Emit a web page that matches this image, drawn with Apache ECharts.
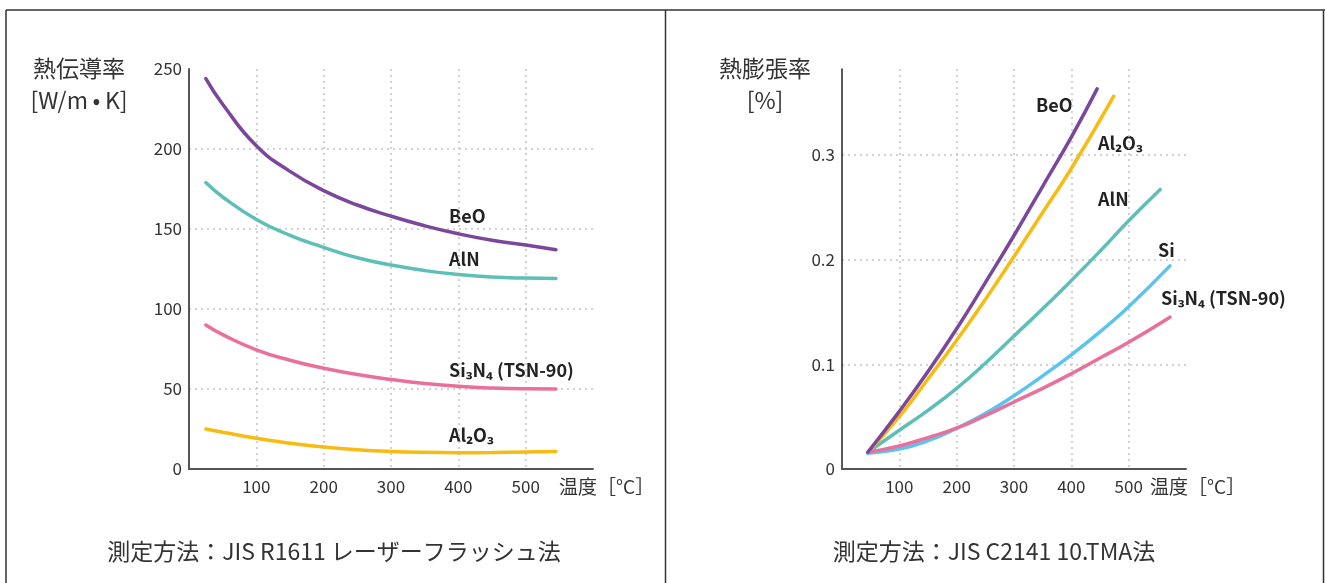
<!DOCTYPE html>
<html>
<head>
<meta charset="utf-8">
<script src="https://cdn.jsdelivr.net/npm/echarts@6/dist/echarts.min.js"></script>
<style>
  html, body { margin: 0; padding: 0; background: #fff; }
  #chart { width: 1325px; height: 583px; }
</style>
</head>
<body>
<div id="chart"></div>
<script>
// Thermal conductivity [W/m·K] vs temperature [°C]
const condTemps   = [25, 50, 100, 150, 200, 250, 300, 350, 400, 450, 500, 545];
const condBeO     = [244, 228, 202, 186, 174, 165, 158, 152, 147, 143, 140, 137];
const condAlN     = [179, 170, 156, 146, 138.5, 132, 127.5, 124, 121.5, 120, 119.3, 119];
const condSi3N4   = [90, 84, 74.5, 68, 63, 59, 56, 53.5, 51.7, 50.6, 50.1, 50];
const condAl2O3   = [25, 23, 19.2, 16.1, 13.8, 12.1, 11, 10.4, 10.2, 10.3, 10.6, 11];

// Thermal expansion [%] vs temperature [°C]
const expTempsBeO   = [45, 100, 150, 200, 250, 300, 350, 400, 445];
const expBeO        = [0.016, 0.055, 0.093, 0.134, 0.178, 0.223, 0.270, 0.317, 0.363];
const expTempsAl2O3 = [45, 100, 150, 200, 250, 300, 350, 400, 474];
const expAl2O3      = [0.016, 0.050, 0.086, 0.123, 0.162, 0.203, 0.245, 0.287, 0.356];
const expTempsAlN   = [45, 100, 150, 200, 250, 300, 350, 400, 450, 500, 555];
const expAlN        = [0.016, 0.037, 0.056, 0.077, 0.101, 0.127, 0.153, 0.180, 0.208, 0.237, 0.267];
const expTempsSi    = [45, 100, 150, 200, 250, 300, 350, 400, 450, 500, 572];
const expSi         = [0.015, 0.019, 0.027, 0.039, 0.053, 0.070, 0.089, 0.109, 0.131, 0.155, 0.194];
const expTempsSi3N4 = [45, 100, 150, 200, 250, 300, 350, 400, 450, 500, 572];
const expSi3N4      = [0.016, 0.022, 0.030, 0.039, 0.051, 0.064, 0.077, 0.091, 0.106, 0.121, 0.145];

const FONT = '"Noto Sans CJK JP", "Noto Sans", sans-serif';
const COLORS = {
  BeO: '#7b479c',
  AlN: '#5dbfb8',
  Si3N4: '#e9709b',
  Al2O3: '#f7bb12',
  Si: '#5bc4ee'
};

const pairs = (xs, ys) => xs.map((x, i) => [x, ys[i]]);

const chart = echarts.init(document.getElementById('chart'), null, { renderer: 'canvas' });

const gridLine = { show: true, showMinLine: false, showMaxLine: false,
  lineStyle: { color: '#c4c4c4', width: 1.5, type: [2, 4] } };
const labelStyle = { color: '#333', fontFamily: FONT, fontSize: 17 };

function xAxisFor(gridIndex) {
  return {
    gridIndex, type: 'value', min: 0, max: 600, interval: 100,
    axisLine: { show: true, onZero: false, lineStyle: { color: '#555', width: 2 } },
    axisTick: { show: false },
    axisLabel: Object.assign({ showMinLabel: false, showMaxLabel: false, margin: 9 }, labelStyle),
    splitLine: gridLine
  };
}

function lineSeries(name, data, xi, yi, color, z) {
  return {
    name, type: 'line', xAxisIndex: xi, yAxisIndex: yi, data,
    smooth: 0.5, showSymbol: false, symbol: 'none',
    lineStyle: { color, width: 3.5, cap: 'round' }, z,
    silent: true, animation: false
  };
}

const seriesLabel = (text, x, y) => ({
  type: 'text', left: x, top: y,
  style: { text, fill: '#222', font: 'bold 18px ' + FONT }
});
const plainText = (text, x, y, size, align) => ({
  type: 'text', x, y,
  style: { text, fill: '#333', font: size + 'px ' + FONT, textAlign: align || 'left', textVerticalAlign: 'middle' }
});
const frameLine = (x1, y1, x2, y2) => ({
  type: 'line', shape: { x1, y1, x2, y2 },
  style: { stroke: '#333', lineWidth: 1.5 }
});

chart.setOption({
  backgroundColor: '#fff',
  animation: false,
  grid: [
    { left: 189, top: 69, right: 732, bottom: 114 },
    { left: 842, top: 69, right: 139, bottom: 114 }
  ],
  xAxis: [xAxisFor(0), xAxisFor(1)],
  yAxis: [
    {
      gridIndex: 0, type: 'value', min: 0, max: 250, interval: 50,
      axisLine: { show: true, onZero: false, lineStyle: { color: '#555', width: 2 } },
      axisTick: { show: false },
      axisLabel: Object.assign({ margin: 7 }, labelStyle),
      splitLine: gridLine
    },
    {
      gridIndex: 1, type: 'value', min: 0, max: 0.382, interval: 0.1,
      axisLine: { show: true, onZero: false, lineStyle: { color: '#222', width: 1.5 } },
      axisTick: { show: false },
      axisLabel: Object.assign({ margin: 7, showMaxLabel: false,
        formatter: v => (v === 0 ? '0' : v.toFixed(1)) }, labelStyle),
      splitLine: gridLine
    }
  ],
  series: [
    lineSeries('Al2O3', pairs(condTemps, condAl2O3), 0, 0, COLORS.Al2O3, 3),
    lineSeries('Si3N4', pairs(condTemps, condSi3N4), 0, 0, COLORS.Si3N4, 3),
    lineSeries('AlN', pairs(condTemps, condAlN), 0, 0, COLORS.AlN, 3),
    lineSeries('BeO', pairs(condTemps, condBeO), 0, 0, COLORS.BeO, 3),

    lineSeries('Si', pairs(expTempsSi, expSi), 1, 1, COLORS.Si, 3),
    lineSeries('Si3N4', pairs(expTempsSi3N4, expSi3N4), 1, 1, COLORS.Si3N4, 4),
    lineSeries('AlN', pairs(expTempsAlN, expAlN), 1, 1, COLORS.AlN, 3),
    lineSeries('Al2O3', pairs(expTempsAl2O3, expAl2O3), 1, 1, COLORS.Al2O3, 3),
    lineSeries('BeO', pairs(expTempsBeO, expBeO), 1, 1, COLORS.BeO, 4)
  ],
  graphic: [
    // panel frame
    frameLine(6, 10, 1325, 10),
    frameLine(6, 10, 6, 583),
    frameLine(665.5, 10, 665.5, 583),
    frameLine(1323.5, 10, 1323.5, 583),

    // axis titles
    plainText('熱伝導率', 79, 68, 23, 'center'),
    plainText('[W/m\u2009•\u2009K]', 79, 100, 23, 'center'),
    plainText('温度［°C］', 559, 487, 19),
    plainText('熱膨張率', 765, 68, 23, 'center'),
    plainText('[%]', 765, 100, 23, 'center'),
    plainText('温度［°C］', 1150, 487, 19),

    // series names, conductivity panel
    seriesLabel('BeO', 449, 207),
    seriesLabel('AlN', 449, 250),
    seriesLabel('Si₃N₄ (TSN-90)', 449, 361),
    seriesLabel('Al₂O₃', 449, 426),

    // series names, expansion panel
    seriesLabel('BeO', 1036, 96),
    seriesLabel('Al₂O₃', 1098, 134),
    seriesLabel('AlN', 1098, 190),
    seriesLabel('Si', 1158, 241),
    seriesLabel('Si₃N₄ (TSN-90)', 1161, 289),

    // measurement method captions
    plainText('測定方法：JIS R1611 レーザーフラッシュ法', 334, 551, 23, 'center'),
    plainText('測定方法：JIS C2141 10.TMA法', 994, 551, 23, 'center')
  ]
});
</script>
</body>
</html>
